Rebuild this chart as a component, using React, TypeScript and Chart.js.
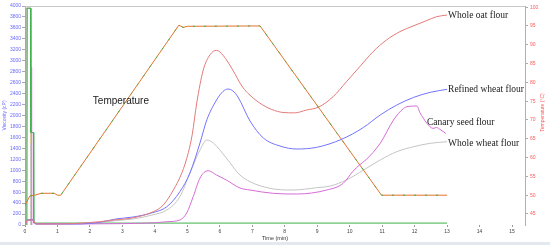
import React, { useEffect, useRef } from "react";
import { Chart, registerables } from "chart.js";
Chart.register(...registerables);

// Whole oat flour (viscosity, cP)
const oatTime = [0, 0.08, 0.25, 0.33, 1.0, 1.6, 2.3, 2.8, 3.3, 3.95, 4.26, 4.57, 4.83, 5.03, 5.15, 5.29, 5.49, 5.7, 5.9, 6.1, 6.4, 6.7, 6.93, 7.3, 7.6, 7.95, 8.3, 8.67, 9.03, 9.49, 9.9, 10.31, 10.72, 11.13, 11.54, 11.95, 12.36, 12.67, 13.0];
const oatVisc = [0, 90, 90, 20, 20, 30, 60, 95, 128, 243, 365, 640, 950, 1320, 1650, 2230, 2830, 3110, 3190, 3100, 2830, 2520, 2370, 2200, 2110, 2055, 2048, 2100, 2150, 2343, 2617, 2891, 3165, 3378, 3530, 3634, 3731, 3804, 3835];

// Refined wheat flour
const refinedTime = [0, 0.08, 0.25, 0.33, 1.0, 1.6, 2.3, 2.8, 3.33, 3.9, 4.37, 4.77, 5.08, 5.39, 5.6, 5.9, 6.1, 6.25, 6.4, 6.56, 6.93, 7.34, 7.85, 8.37, 8.98, 9.75, 10.42, 10.94, 11.45, 11.97, 12.48, 13.0];
const refinedVisc = [0, 95, 95, 20, 20, 20, 50, 110, 146, 220, 334, 608, 950, 1500, 1920, 2283, 2440, 2483, 2450, 2337, 1900, 1590, 1443, 1388, 1418, 1565, 1780, 2009, 2191, 2331, 2423, 2478];

// Whole wheat flour
const wholeWheatTime = [0, 0.08, 0.25, 0.33, 1.0, 1.6, 2.3, 2.8, 3.33, 3.9, 4.37, 4.77, 5.08, 5.39, 5.6, 5.8, 6.2, 6.62, 6.93, 7.55, 8.25, 8.98, 9.4, 9.9, 10.43, 10.94, 11.45, 11.97, 12.48, 13.0];
const wholeWheatVisc = [0, 80, 80, 20, 20, 20, 45, 80, 110, 180, 274, 517, 949, 1370, 1552, 1497, 1223, 913, 791, 669, 639, 681, 712, 822, 1004, 1187, 1339, 1430, 1492, 1521];

// Canary seed flour
const canaryTime = [0, 0.08, 0.25, 0.33, 1.0, 2.0, 3.0, 4.0, 4.37, 4.77, 4.98, 5.18, 5.39, 5.64, 5.9, 6.2, 6.62, 6.93, 7.65, 8.37, 9.29, 9.8, 10.1, 10.3, 10.5, 10.94, 11.35, 11.66, 11.8, 12.07, 12.17, 12.27, 12.37, 12.57, 12.68, 12.78, 12.96];
const canaryVisc = [0, 95, 95, 20, 20, 20, 25, 40, 60, 91, 219, 517, 858, 992, 913, 822, 676, 639, 578, 566, 639, 761, 980, 1096, 1190, 1492, 1917, 2130, 2165, 2173, 2045, 1950, 1862, 1765, 1780, 1747, 1674];

// Temperature profile (°C)
const tempTime = [0, 0.15, 0.3, 0.5, 0.9, 1.0, 1.1, 4.74, 4.87, 5.0, 7.24, 10.98, 13.0];
const tempValue = [47.3, 49.8, 50.0, 50.5, 50.5, 50.0, 50.0, 95.2, 94.6, 94.9, 95.0, 50.0, 50.0];

// Start-up spikes (viscosity, cP)
const speedTime = [0.06, 0.07, 0.17, 0.18, 0.26, 0.27, 13.0];
const speedVisc = [0, 3960, 3960, 1690, 1690, 35, 35];
const graySpikeTime = [0.03, 0.035, 0.18, 0.185];
const graySpikeVisc = [0, 3960, 3960, 0];
const pinkSpikeTime = [0.16, 0.2, 0.205];
const pinkSpikeVisc = [2880, 2880, 0];
const yellowSpikeTime = [0.19, 0.19];
const yellowSpikeVisc = [1480, 1690];

// Axis ticks
const xTicks = [0, 1, 2, 3, 4, 5, 6, 7, 8, 9, 10, 11, 12, 13, 14, 15];
const tempTicks = [45, 50, 55, 60, 65, 70, 75, 80, 85, 90, 95, 100];

// Series labels
const labelTexts = ["Whole oat flour", "Refined wheat flour", "Canary seed flour", "Whole wheat flour"];
const labelTimes = [13.03, 13.03, 12.38, 13.03];
const labelVisc = [3835, 2478, 1881, 1490];

const mk = (xs: number[], ys: number[]) => xs.map((x, i) => ({ x, y: ys[i] }));

const overlayPlugin = {
  id: "overlay",
  afterDatasetsDraw(chart: any) {
    const { ctx, chartArea, scales } = chart;
    const x = scales.x;
    const y = scales.y;
    ctx.save();
    ctx.strokeStyle = "#c8c8c8";
    ctx.lineWidth = 1;
    ctx.beginPath();
    ctx.moveTo(chartArea.left, chartArea.top + 0.5);
    ctx.lineTo(chartArea.right, chartArea.top + 0.5);
    ctx.stroke();
    ctx.fillStyle = "#1a1a1a";
    ctx.textBaseline = "middle";
    ctx.textAlign = "left";
    ctx.font = '9.5px "Liberation Serif"';
    labelTexts.forEach((t, i) => {
      ctx.fillText(t, x.getPixelForValue(labelTimes[i]), y.getPixelForValue(labelVisc[i]));
    });
    ctx.font = '10px "Liberation Sans"';
    ctx.fillText("Temperature", x.getPixelForValue(2.09), y.getPixelForValue(2264));
    ctx.translate(543, (chartArea.top + chartArea.bottom) / 2 - 3);
    ctx.rotate(-Math.PI / 2);
    ctx.textAlign = "center";
    ctx.fillStyle = "#ff5a5a";
    ctx.font = '5px "Liberation Sans"';
    ctx.fillText("Temperature (°C)", 0, 0);
    ctx.restore();
  },
};

export default function App() {
  const ref = useRef<HTMLCanvasElement>(null);
  useEffect(() => {
    if (!ref.current) return;
    const thin = { pointRadius: 0, borderWidth: 1, fill: false };
    // Note: Chart.js draws dataset 0 last (on top)
    const chart = new Chart(ref.current, {
      type: "line",
      data: {
        datasets: [
          { ...thin, data: mk(tempTime, tempValue), borderColor: "#3cb44b", borderDash: [2, 9], tension: 0, yAxisID: "y1" },
          { ...thin, data: mk(tempTime, tempValue), borderColor: "#e0742a", tension: 0, yAxisID: "y1" },
          { ...thin, data: mk(oatTime, oatVisc), borderColor: "#e47a7a", cubicInterpolationMode: "monotone", yAxisID: "y" },
          { ...thin, data: mk(refinedTime, refinedVisc), borderColor: "#7373ff", cubicInterpolationMode: "monotone", yAxisID: "y" },
          { ...thin, data: mk(canaryTime, canaryVisc), borderColor: "#d66cd6", cubicInterpolationMode: "monotone", yAxisID: "y" },
          { ...thin, data: mk(wholeWheatTime, wholeWheatVisc), borderColor: "#c4c4c4", cubicInterpolationMode: "monotone", yAxisID: "y" },
          { ...thin, data: mk(speedTime, speedVisc), borderColor: "#3cb44b", tension: 0, yAxisID: "y" },
          { ...thin, data: mk(pinkSpikeTime, pinkSpikeVisc), borderColor: "#f080f0", tension: 0, yAxisID: "y" },
          { ...thin, data: mk(yellowSpikeTime, yellowSpikeVisc), borderColor: "#f0d060", tension: 0, yAxisID: "y" },
          { ...thin, data: mk(graySpikeTime, graySpikeVisc), borderColor: "#a09890", tension: 0, yAxisID: "y" },
        ],
      },
      options: {
        responsive: false,
        animation: false,
        devicePixelRatio: 1,
        layout: { padding: { top: 6, left: 0, right: 0, bottom: 0 } },
        plugins: { legend: { display: false }, tooltip: { enabled: false } },
        scales: {
          x: {
            type: "linear",
            min: 0,
            max: 15.4,
            afterBuildTicks: (s: any) => { s.ticks = xTicks.map((v) => ({ value: v })); },
            afterFit: (s: any) => { s.height = 23; },
            border: { display: false },
            grid: { drawOnChartArea: false, tickLength: 2, color: "#999" },
            ticks: { color: "#444", font: { size: 5, family: "Liberation Sans" }, padding: 2, maxRotation: 0, callback: (v: any) => String(v) },
            title: { display: true, text: "Time (min)", color: "#333", font: { size: 5.5, family: "Liberation Sans" }, padding: { top: 0, bottom: 6 } },
          },
          y: {
            position: "left",
            min: 0,
            max: 4000,
            afterFit: (s: any) => { s.width = 25; },
            border: { display: true, color: "#b0b0b0" },
            grid: { drawOnChartArea: false, tickLength: 3, color: "#aaa" },
            ticks: { stepSize: 200, autoSkip: false, color: "#6a6aff", font: { size: 5, family: "Liberation Sans" }, padding: 1, callback: (v: any) => String(v) },
            title: { display: true, text: "Viscosity (cP)", color: "#6a6aff", font: { size: 5, family: "Liberation Sans" }, padding: { top: 2, bottom: 0 } },
          },
          y1: {
            position: "right",
            min: 42.07,
            max: 100.3,
            afterBuildTicks: (s: any) => { s.ticks = tempTicks.map((v) => ({ value: v })); },
            afterFit: (s: any) => { s.width = 25; },
            border: { display: true, color: "#b0b0b0" },
            grid: { drawOnChartArea: false, tickLength: 3, color: "#aaa" },
            ticks: { autoSkip: false, color: "#ff5a5a", font: { size: 5, family: "Liberation Sans" }, padding: 2, callback: (v: any) => String(v) },
          },
        },
      },
      plugins: [overlayPlugin],
    } as any);
    return () => chart.destroy();
  }, []);
  return (
    <div style={{ position: "fixed", left: 0, top: 0, width: 550, height: 248, background: "#fff" }}>
      <div style={{ position: "absolute", left: 0, top: 242, width: 550, height: 3, background: "#e3e9ee" }} />
      <canvas ref={ref} width={550} height={248} style={{ position: "absolute", left: 0, top: 0 }} />
    </div>
  );
}
